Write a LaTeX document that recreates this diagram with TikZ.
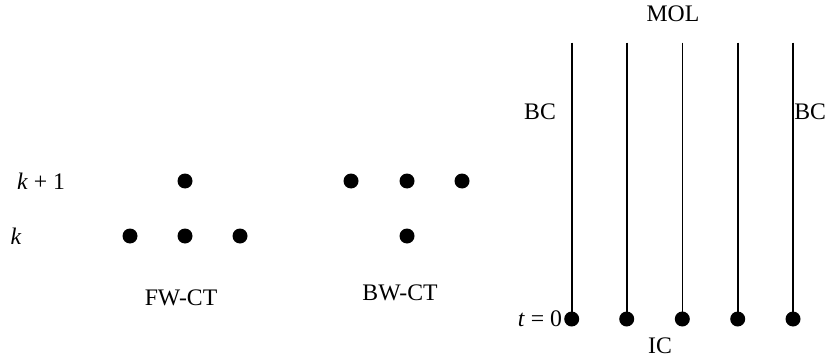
\documentclass[tikz,border=0pt]{standalone}
\usepackage{fontspec}
\setmainfont{Liberation Serif}
\usepackage{tikz}
\usetikzlibrary{positioning}

\begin{document}
\begin{tikzpicture}[
  x=0.02cm, y=-0.02cm,
  font=\fontsize{13.5}{15}\selectfont,
  pt/.style={circle, fill=black, draw=none, inner sep=0pt, minimum size=0.3cm},
  lbl/.style={inner sep=0pt, align=center},
  ln/.style={line width=0.9pt},
]
\useasboundingbox (0,0) rectangle (827,358);
%% Row labels
\node[lbl] at (41,181) (kp1) {\textit{k} + 1};
\node[lbl] at (16,236) (k)   {\textit{k}};
%% Forward-time stencil
\node[pt] at (185,181) (fwt)  {};
\node[pt] at (130,236) (fwl)  {};
\node[pt] at (185,236) (fwc)  {};
\node[pt] at (240,236) (fwr)  {};
\node[lbl] at (181,298) (fwlbl) {FW-CT};
%% Backward-time stencil
\node[pt] at (351,181) (bwl)  {};
\node[pt] at (407,181) (bwc)  {};
\node[pt] at (462,181) (bwr)  {};
\node[pt] at (407,236) (bwb)  {};
\node[lbl] at (400,293) (bwlbl) {BW-CT};
%% Method of lines
\node[lbl] at (673,14) (mol) {MOL};
\foreach \x [count=\i] in {571.7, 626.7, 682.3, 737.7, 793} {
  \node[pt] at (\x,319) (m\i) {};
  \coordinate (mt\i) at (\x,42.7);
  \draw[ln] (mt\i) -- (m\i.center);
}
\node[lbl] at (540,112) (bcl) {BC};
\node[lbl, anchor=west] at (794,112) (bcr) {BC};
\node[lbl, left=1.5 of m1] (t0) {\textit{t} = 0};
\node[lbl] at (660,346) (ic) {IC};
\end{tikzpicture}
\end{document}
